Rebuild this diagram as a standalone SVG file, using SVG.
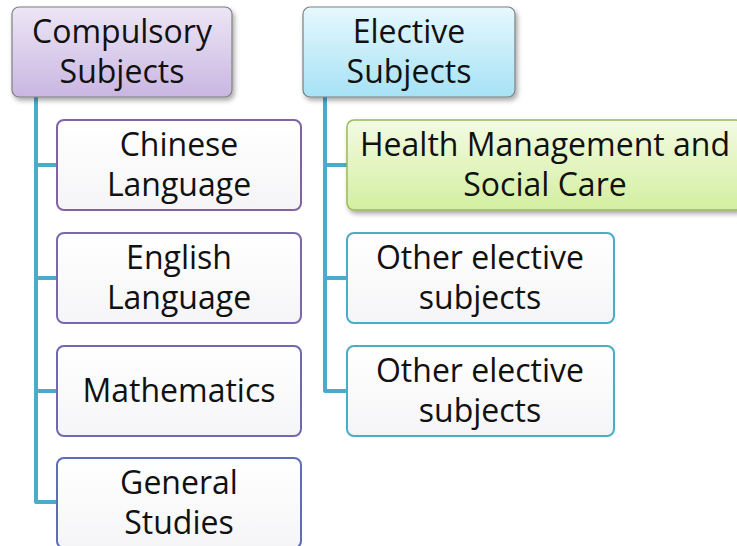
<svg xmlns="http://www.w3.org/2000/svg" width="737" height="546" viewBox="0 0 737 546">
  <defs>
    <linearGradient id="gPurple" x1="0" y1="0" x2="0" y2="1">
      <stop offset="0" stop-color="#ede6f5"/>
      <stop offset="1" stop-color="#c9b6e2"/>
    </linearGradient>
    <linearGradient id="gBlue" x1="0" y1="0" x2="0" y2="1">
      <stop offset="0" stop-color="#e6f8fd"/>
      <stop offset="1" stop-color="#a6e2f5"/>
    </linearGradient>
    <linearGradient id="gGreen" x1="0" y1="0" x2="0" y2="1">
      <stop offset="0" stop-color="#f3fbe2"/>
      <stop offset="1" stop-color="#d3efa0"/>
    </linearGradient>
    <linearGradient id="gWhite" x1="0" y1="0" x2="0" y2="1">
      <stop offset="0" stop-color="#ffffff"/>
      <stop offset="1" stop-color="#f5f5f7"/>
    </linearGradient>
    <filter id="shadow" x="-10%" y="-10%" width="130%" height="140%">
      <feGaussianBlur in="SourceAlpha" stdDeviation="2.5"/>
      <feOffset dx="2" dy="3" result="b"/>
      <feComponentTransfer><feFuncA type="linear" slope="0.35"/></feComponentTransfer>
      <feMerge><feMergeNode/><feMergeNode in="SourceGraphic"/></feMerge>
    </filter>
  </defs>
  <style>
    text { font-family: "Open Sans", "Liberation Sans", sans-serif; font-size: 32px; fill: #111; text-anchor: middle; }
    .conn { fill: none; stroke: #4bacc6; stroke-width: 4; stroke-linejoin: round; }
    .head { stroke: #7f7f7f; stroke-width: 1.2; filter: url(#shadow); }
    .leaf { fill: url(#gWhite); stroke-width: 2; }
  </style>

  <g id="connectors">
    <path class="conn" d="M36 97 V502 H57 M36 165 H57 M36 278 H57 M36 391 H57"/>
    <path class="conn" d="M325 97 V391 H347 M325 165 H347 M325 278 H347"/>
  </g>

  <g id="compulsory">
    <rect class="head" x="12" y="7" width="220" height="90" rx="7" fill="url(#gPurple)"/>
    <text x="122" y="43">Compulsory</text>
    <text x="122" y="83">Subjects</text>
  </g>

  <g id="elective">
    <rect class="head" x="303" y="7" width="212" height="90" rx="7" fill="url(#gBlue)"/>
    <text x="409" y="43">Elective</text>
    <text x="409" y="83">Subjects</text>
  </g>

  <g id="chinese">
    <rect class="leaf" x="57" y="120" width="244" height="90" rx="7" stroke="#8064a2"/>
    <text x="179" y="156">Chinese</text>
    <text x="179" y="196">Language</text>
  </g>

  <g id="english">
    <rect class="leaf" x="57" y="233" width="244" height="90" rx="7" stroke="#7a68ac"/>
    <text x="179" y="269">English</text>
    <text x="179" y="309">Language</text>
  </g>

  <g id="mathematics">
    <rect class="leaf" x="57" y="346" width="244" height="90" rx="7" stroke="#7068b2"/>
    <text x="179" y="402">Mathematics</text>
  </g>

  <g id="general-studies">
    <rect class="leaf" x="57" y="458" width="244" height="90" rx="7" stroke="#5f6cbc"/>
    <text x="179" y="494">General</text>
    <text x="179" y="534">Studies</text>
  </g>

  <g id="health">
    <rect x="347" y="120" width="396" height="90" rx="7" fill="url(#gGreen)" stroke="#9bbb59" stroke-width="1.5" filter="url(#shadow)"/>
    <text x="545" y="156">Health Management and</text>
    <text x="545" y="196">Social Care</text>
  </g>

  <g id="other-elective-1">
    <rect class="leaf" x="347" y="233" width="267" height="90" rx="7" stroke="#4bacc6"/>
    <text x="480" y="269">Other elective</text>
    <text x="480" y="309">subjects</text>
  </g>

  <g id="other-elective-2">
    <rect class="leaf" x="347" y="346" width="267" height="90" rx="7" stroke="#4bacc6"/>
    <text x="480" y="382">Other elective</text>
    <text x="480" y="422">subjects</text>
  </g>
</svg>
